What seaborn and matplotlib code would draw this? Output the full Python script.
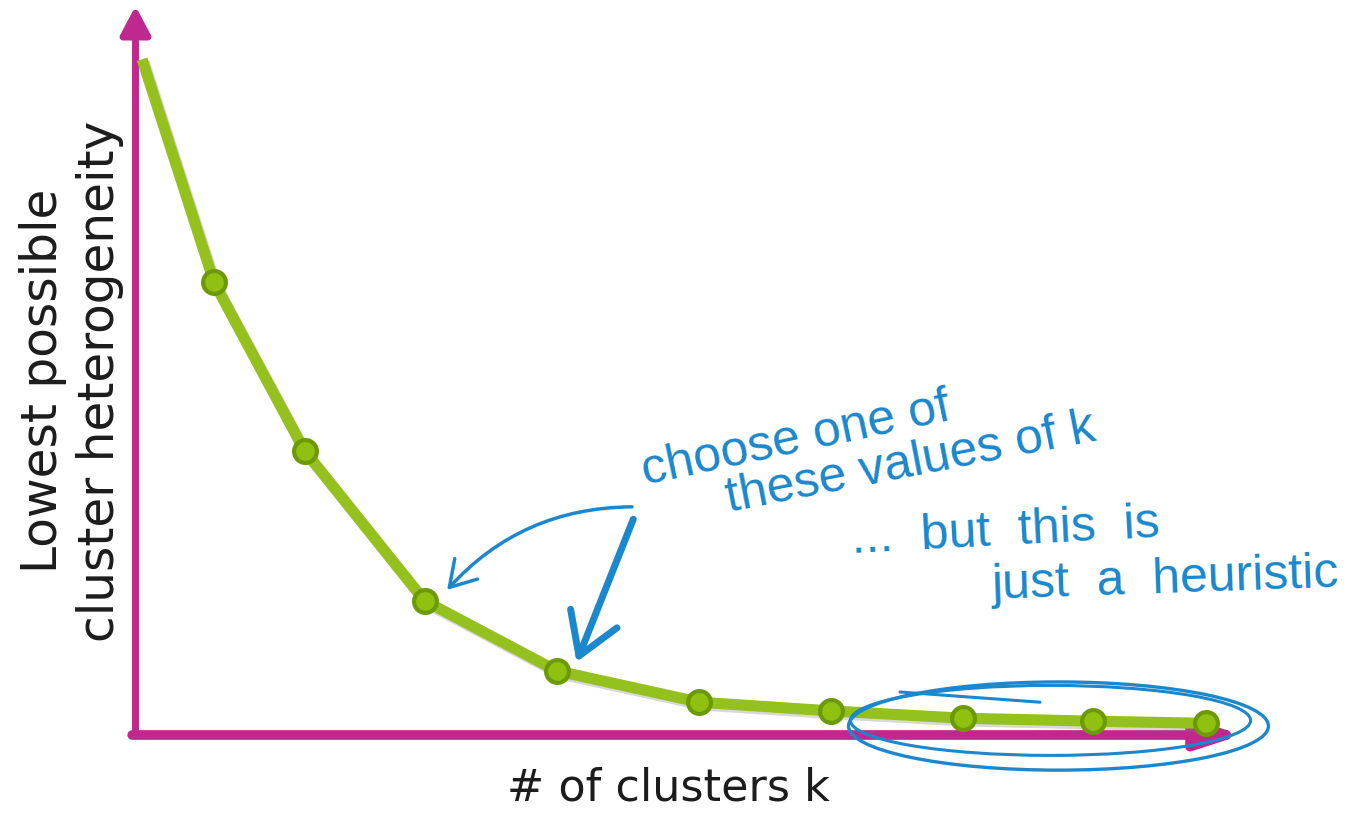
import matplotlib
matplotlib.use("Agg")
import matplotlib.pyplot as plt
import matplotlib.patheffects as pe
from matplotlib.patches import FancyArrowPatch, Ellipse
import pandas as pd
import seaborn as sns

# Elbow curve: where each k sits along the axis and the lowest heterogeneity reached
k_values = [1, 2, 3, 4, 5, 6, 7, 8, 9, 10]
k_axis_pos = [0.05, 0.595, 1.28, 2.19, 3.19, 4.27, 5.27, 6.27, 7.25, 8.11]
heterogeneity = [92.7, 62.1, 39.0, 18.4, 8.8, 4.5, 3.3, 2.3, 1.9, 1.6]

x_label = "# of clusters k"
y_label = "Lowest possible\ncluster heterogeneity"
note_choose = ["choose one of", "these values of k"]
note_heuristic = ["...  but  this  is", "just  a  heuristic"]

MAGENTA = "#c0288f"
LIME = "#95c11f"
MARKER_FACE = "#90c010"
MARKER_EDGE = "#6b9a06"
INK = "#1b87cc"
LABEL = "#1c1c1c"

sns.set_theme(style="white")
plt.rcParams["font.family"] = ["DejaVu Sans"]
hand_font = ["Liberation Sans Narrow", "Liberation Sans", "DejaVu Sans"]

df = pd.DataFrame({"k": k_values, "pos": k_axis_pos, "het": heterogeneity})

fig = plt.figure(figsize=(13.66, 8.2), dpi=100)
ax = fig.add_axes([135.5 / 1366, 84 / 820, 1106.5 / 1366, 729 / 820])
ax.set_xlim(0, 8.38)
ax.set_ylim(0, 100)
for s in ax.spines.values():
    s.set_visible(False)
ax.set_xticks([])
ax.set_yticks([])
ax.patch.set_alpha(0)

shadow_line = [pe.SimpleLineShadow(offset=(1.5, -2), shadow_color="0.5", alpha=0.3), pe.Normal()]
shadow_patch = [pe.SimplePatchShadow(offset=(1.5, -1.5), shadow_rgbFace="0.5", alpha=0.25), pe.Normal()]

# axis arrows
y_arrow = FancyArrowPatch((0, 0), (0, 1), transform=ax.transAxes,
                          arrowstyle="-|>,head_length=0.85,head_width=0.45",
                          mutation_scale=20, lw=5, color=MAGENTA,
                          shrinkA=0, shrinkB=0, clip_on=False, zorder=2,
                          path_effects=shadow_patch)
x_arrow = FancyArrowPatch((-0.003, 0), (1.0, 0), transform=ax.transAxes,
                          arrowstyle="-|>,head_length=1.3,head_width=0.42",
                          mutation_scale=20, lw=7, color=MAGENTA,
                          shrinkA=0, shrinkB=0, clip_on=False, zorder=2,
                          path_effects=shadow_patch)
ax.add_patch(y_arrow)
ax.add_patch(x_arrow)

# elbow curve
sns.lineplot(data=df, x="pos", y="het", estimator=None, sort=False, ax=ax,
             color=LIME, lw=8, solid_capstyle="butt", zorder=3,
             path_effects=shadow_line)
sns.scatterplot(data=df[df["k"] > 1], x="pos", y="het", ax=ax, s=270,
                color=MARKER_FACE, edgecolor=MARKER_EDGE, linewidth=3,
                zorder=4, clip_on=False)
ax.set_xlabel("")
ax.set_ylabel("")

# axis titles
ax.text(0.482, -0.071, x_label, transform=ax.transAxes, fontsize=32,
        color=LABEL, ha="center", va="center")
ax.text(-0.058, 0.487, y_label, transform=ax.transAxes, fontsize=35,
        color=LABEL, ha="center", va="center",
        rotation=90, linespacing=1.22, multialignment="center")

# hand-written notes
ax.text(5.0, 40.6, note_choose[0], rotation=12, fontsize=36, color=INK,
        family=hand_font, ha="center", va="center", rotation_mode="anchor")
ax.text(5.87, 37.4, note_choose[1], rotation=11, fontsize=36, color=INK,
        family=hand_font, ha="center", va="center", rotation_mode="anchor")
ax.text(6.59, 28.0, note_heuristic[0], rotation=3, fontsize=36, color=INK,
        family=hand_font, ha="center", va="center", rotation_mode="anchor")
ax.text(7.8, 21.4, note_heuristic[1], rotation=2, fontsize=36, color=INK,
        family=hand_font, ha="center", va="center", rotation_mode="anchor")

# arrows pointing at the elbow
ax.add_patch(FancyArrowPatch((3.76, 31.3), (2.36, 19.9),
                             connectionstyle="arc3,rad=0.22",
                             arrowstyle="->,head_length=0.9,head_width=0.55",
                             mutation_scale=20, lw=2.5, color=INK,
                             shrinkA=0, shrinkB=0, zorder=5, capstyle="round"))
ax.add_patch(FancyArrowPatch((3.77, 29.6), (3.34, 10.0),
                             arrowstyle="->,head_length=1.45,head_width=0.9",
                             mutation_scale=20, lw=5, color=INK,
                             shrinkA=0, shrinkB=0, zorder=5, capstyle="round"))

# loops around the flat tail
ax.add_patch(Ellipse((6.99, 1.23), 3.18, 12.1, fill=False, ec=INK, lw=2.4,
                     zorder=5, clip_on=False))
ax.add_patch(Ellipse((6.93, 2.0), 3.03, 9.6, fill=False, ec=INK, lw=2.2,
                     zorder=5, clip_on=False))
ax.plot([5.79, 6.85], [5.9, 4.5], color=INK, lw=2.2, zorder=5,
        solid_capstyle="round")

fig.savefig("out.png", dpi=100, facecolor="white")
